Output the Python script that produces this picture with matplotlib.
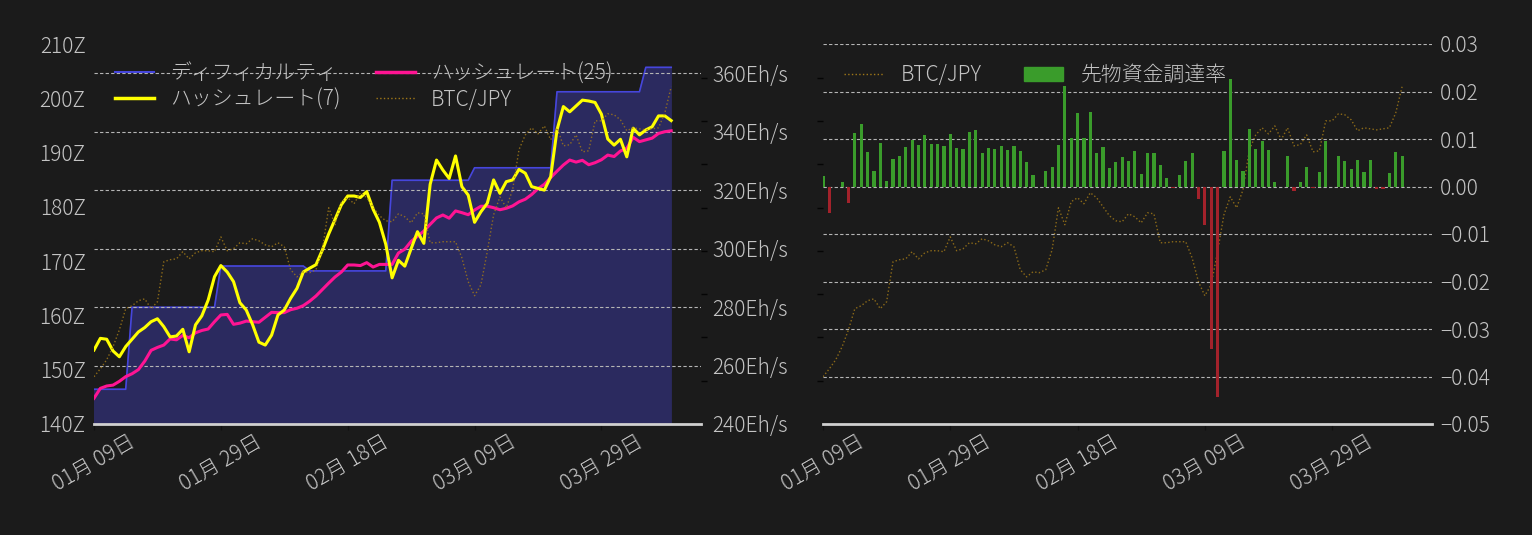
import matplotlib
matplotlib.use("Agg")
import matplotlib.pyplot as plt
import matplotlib.dates as mdates
import matplotlib.ticker as mticker
from matplotlib.patches import Patch
from matplotlib.lines import Line2D
import numpy as np
import pandas as pd

plt.rcParams['font.family'] = ['Noto Sans CJK JP', 'DejaVu Sans']
plt.rcParams['font.weight'] = 'light'

# ---------------- data ----------------
start_date = "2024-01-09"
n_days = 92
dates = pd.date_range(start_date, periods=n_days, freq="D")

difficulty = ([146.4] * 6 + [161.5] * 14 + [169.1] * 14 + [168.2] * 13 +
              [184.9] * 13 + [187.2] * 13 + [201.2] * 14 + [205.7] * 5)

hashrate7 = [265.3, 269.3, 269.0, 265.0, 263.0, 266.5, 269.0, 271.5, 273.0, 275.0,
             276.0, 273.3, 269.8, 270.1, 272.4, 264.7, 273.9, 277.0, 282.4, 290.4,
             294.2, 292.0, 288.7, 281.5, 279.0, 274.0, 268.0, 267.0, 270.4, 277.3,
             279.0, 283.0, 286.4, 292.0, 293.3, 294.5, 299.5, 305.0, 310.0, 315.0,
             318.0, 318.0, 317.5, 319.5, 313.5, 309.0, 301.5, 290.0, 296.0, 294.0,
             300.0, 305.8, 301.8, 322.0, 330.3, 326.9, 324.0, 331.7, 321.2, 318.3,
             309.0, 312.6, 315.5, 323.5, 318.9, 322.9, 323.5, 327.1, 325.8, 321.2,
             320.6, 320.0, 324.6, 340.6, 348.6, 346.8, 348.8, 350.8, 350.5, 350.0,
             346.0, 337.5, 335.4, 337.4, 331.4, 341.2, 338.9, 340.6, 341.7, 345.4,
             345.4, 343.8]

hashrate25 = [248.8, 252.2, 253.0, 253.3, 254.6, 256.2, 257.2, 258.6, 261.5, 265.2,
              266.2, 267.0, 269.1, 268.8, 270.3, 269.5, 271.2, 272.0, 272.5, 275.0,
              277.3, 277.5, 274.1, 274.5, 275.2, 275.0, 274.8, 276.5, 278.2, 278.1,
              278.1, 279.1, 279.6, 280.5, 282.0, 283.8, 286.0, 288.2, 290.3, 292.0,
              294.4, 294.4, 294.2, 295.2, 293.7, 294.6, 294.6, 294.6, 298.5, 299.8,
              302.5, 304.2, 306.0, 308.3, 310.5, 311.5, 310.4, 312.9, 312.3, 311.6,
              313.2, 314.5, 314.5, 314.0, 313.3, 313.8, 314.6, 316.0, 316.9, 318.5,
              320.5, 322.0, 324.3, 326.5, 328.6, 330.3, 329.6, 330.2, 328.7, 329.4,
              330.4, 332.0, 331.5, 333.4, 334.3, 338.1, 336.6, 337.2, 337.8, 339.4,
              340.0, 340.3]

btc_jpy = [2273000, 2319000, 2371000, 2446000, 2544000, 2666000, 2683000, 2712000, 2723000, 2666000,
           2706000, 2937000, 2949000, 2954000, 2995000, 2954000, 2989000, 3001000, 3001000, 2995000,
           3081000, 3001000, 3012000, 3047000, 3041000, 3070000, 3058000, 3035000, 3024000, 3047000,
           3024000, 2891000, 2850000, 2879000, 2874000, 2891000, 3006000, 3249000, 3151000, 3284000,
           3307000, 3272000, 3336000, 3307000, 3255000, 3203000, 3174000, 3168000, 3214000, 3197000,
           3162000, 3220000, 3214000, 3047000, 3047000, 3053000, 3053000, 3053000, 2960000, 2822000,
           2741000, 2804000, 2995000, 3208000, 3312000, 3249000, 3353000, 3584000, 3670000, 3711000,
           3676000, 3722000, 3642000, 3711000, 3607000, 3613000, 3670000, 3572000, 3578000, 3751000,
           3751000, 3792000, 3786000, 3757000, 3694000, 3711000, 3705000, 3699000, 3705000, 3711000,
           3797000, 3948000]

funding_rate = [0.00218, -0.0055, 0.0, 0.00091, -0.0035, 0.01116, 0.01326, 0.00716, 0.00316, 0.00926,
                0.00126, 0.00589, 0.00632, 0.00842, 0.00989, 0.00884, 0.01074, 0.00905, 0.00905, 0.00863,
                0.01095, 0.00821, 0.00779, 0.01137, 0.01179, 0.00695, 0.00821, 0.00800, 0.00863, 0.00758,
                0.00863, 0.00737, 0.00526, 0.00232, -0.0002, 0.00316, 0.00421, 0.00884, 0.02126, 0.01011,
                0.01537, 0.01011, 0.01558, 0.00695, 0.00842, 0.00400, 0.00526, 0.00611, 0.00547, 0.00737,
                0.00253, 0.00695, 0.00695, 0.00463, 0.00189, -0.0003, 0.00232, 0.00547, 0.00695, -0.00253,
                -0.00815, -0.03425, -0.04436, 0.00737, 0.02253, 0.00568, 0.00316, 0.01221, 0.00779, 0.00968,
                0.00758, 0.00105, 0.0, 0.00632, -0.0010, 0.00105, 0.00421, -0.0004, 0.00295, 0.00968,
                -0.0002, 0.00632, 0.00547, 0.00358, 0.00568, 0.00295, 0.00568, -0.0005, -0.0005, 0.00274,
                0.00716, 0.00632]

x_tick_dates = ["2024-01-09", "2024-01-29", "2024-02-18", "2024-03-09", "2024-03-29"]
diff_ticks = [140, 150, 160, 170, 180, 190, 200, 210]
hash_ticks = [240, 260, 280, 300, 320, 340, 360]
fr_ticks = [0.03, 0.02, 0.01, 0.00, -0.01, -0.02, -0.03, -0.04, -0.05]
btc_ticks = [2250000, 2500000, 2750000, 3000000, 3250000, 3500000, 3750000, 4000000]

# ---------------- style ----------------
BG = '#1b1b1b'
TXT = '#c4c4c4'
GRID = '#b5b5b5'
FS = 15
xlim = (pd.Timestamp(start_date), pd.Timestamp(start_date) + pd.Timedelta(days=95.7))
xticks = pd.to_datetime(x_tick_dates)

fig = plt.figure(figsize=(15.32, 5.35), dpi=100, facecolor=BG)
axL = fig.add_axes([94 / 1532, 111 / 535, 607 / 1532, 380 / 535])
axR = fig.add_axes([823 / 1532, 111 / 535, 609 / 1532, 380 / 535])


def style_x(ax):
    ax.set_facecolor(BG)
    ax.set_xlim(*xlim)
    ax.set_xticks(xticks)
    ax.xaxis.set_major_formatter(mdates.DateFormatter('%m月 %d日'))
    for lbl in ax.get_xticklabels():
        lbl.set_rotation(30)
        lbl.set_ha('center')
    ax.tick_params(axis='x', colors='#111111', labelcolor=TXT, labelsize=FS, length=4, width=1, pad=1)
    for s in ['top', 'left', 'right']:
        ax.spines[s].set_visible(False)
    ax.spines['bottom'].set_color('#d0d0d0')
    ax.spines['bottom'].set_linewidth(2)


# ---------- left chart ----------
style_x(axL)
axL.fill_between(dates, difficulty, 0, color='#2b2a5f', zorder=1)
axL.plot(dates, difficulty, color='#4646dc', lw=1.2, zorder=2)
axL.set_ylim(140, 210)
axL.set_yticks(diff_ticks)
axL.yaxis.set_major_formatter(mticker.FuncFormatter(lambda v, p: f"{v:.0f}Z"))
axL.tick_params(axis='y', colors=BG, labelcolor=TXT, labelsize=FS, length=0, pad=6)

axL2 = axL.twinx()
for s in ['top', 'left', 'right', 'bottom']:
    axL2.spines[s].set_visible(False)
axL2.set_ylim(240, 370)
axL2.set_yticks(hash_ticks)
axL2.yaxis.set_major_formatter(mticker.FuncFormatter(lambda v, p: f"{v:.0f}Eh/s"))
axL2.tick_params(axis='y', colors=BG, labelcolor=TXT, labelsize=FS, length=0, pad=8)
axL2.grid(True, axis='y', color=GRID, ls=(0, (3, 2)), lw=0.8)
axL2.plot(dates, hashrate7, color='#ffff00', lw=2.2, zorder=4)
axL2.plot(dates, hashrate25, color='#ff1493', lw=2.2, zorder=3)

axL3 = axL.twinx()
for s in ['top', 'left', 'right', 'bottom']:
    axL3.spines[s].set_visible(False)
axL3.plot(dates, btc_jpy, color='#a07818', lw=1.0, ls=':', alpha=0.85)
axL3.set_ylim(2000000, 4195000)
axL3.set_yticks(btc_ticks)
axL3.tick_params(axis='y', colors='#050505', labelright=False, length=4, width=1)
axL3.set_xlim(*xlim)

handlesL = [Line2D([], [], color='#4646dc', lw=1.5),
            Line2D([], [], color='#ffff00', lw=2.5),
            Line2D([], [], color='#ff1493', lw=2.5),
            Line2D([], [], color='#a07818', lw=1.0, ls=':')]
labelsL = ['ディフィカルティ', 'ハッシュレート(7)', 'ハッシュレート(25)', 'BTC/JPY']
axL3.legend(handlesL, labelsL, ncol=2, loc='upper left', frameon=False,
            fontsize=FS, labelcolor=TXT, handlelength=1.9, handletextpad=0.75,
            columnspacing=1.7, borderaxespad=0.3, bbox_to_anchor=(0.01, 0.99),
            labelspacing=0.2)

# ---------- right chart ----------
style_x(axR)
axR.plot(dates, btc_jpy, color='#a07818', lw=1.0, ls=':', alpha=0.85)
axR.set_ylim(2000000, 4195000)
axR.set_yticks(btc_ticks)
axR.tick_params(axis='y', colors='#050505', labelleft=False, length=4, width=1)

axR2 = axR.twinx()
for s in ['top', 'left', 'right', 'bottom']:
    axR2.spines[s].set_visible(False)
fr = np.array(funding_rate)
bar_colors = ['#3a9c2b' if v >= 0 else '#a3222b' for v in fr]
axR2.bar(dates, fr, width=0.5, color=bar_colors, zorder=3)
axR2.set_ylim(-0.05, 0.03)
axR2.set_yticks(fr_ticks)
axR2.yaxis.set_major_formatter(mticker.FuncFormatter(lambda v, p: f"{v:.2f}".replace('-', '\u2212')))
axR2.tick_params(axis='y', colors=BG, labelcolor=TXT, labelsize=FS, length=0, pad=6)
axR2.grid(True, axis='y', color=GRID, ls=(0, (3, 2)), lw=0.8)
axR2.set_xlim(*xlim)

handlesR = [Line2D([], [], color='#a07818', lw=1.0, ls=':'),
            Patch(color='#3a9c2b')]
labelsR = ['BTC/JPY', '先物資金調達率']
axR2.legend(handlesR, labelsR, ncol=2, loc='upper left', frameon=False,
            fontsize=FS, labelcolor=TXT, handlelength=1.9, handletextpad=0.85,
            columnspacing=2.0, borderaxespad=0.3, bbox_to_anchor=(0.01, 0.985))

fig.savefig('out.png', dpi=100, facecolor=BG)
